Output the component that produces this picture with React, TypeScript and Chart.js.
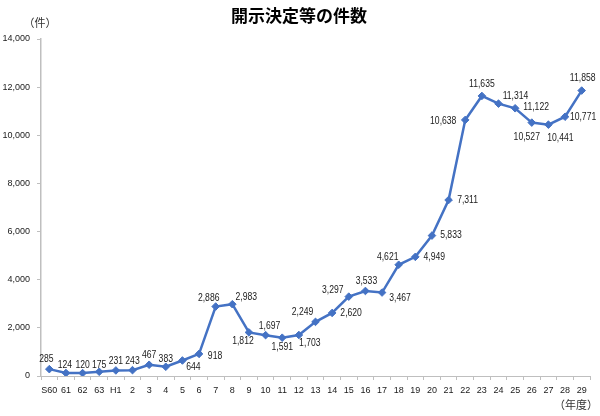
import React, { useEffect, useRef } from "react";
import { Chart, registerables } from "chart.js";

Chart.register(...registerables);

const categories = ["S60","61","62","63","H1","2","3","4","5","6","7","8","9","10","11","12","13","14","15","16","17","18","19","20","21","22","23","24","25","26","27","28","29"];
const counts = [285,124,120,175,231,243,467,383,644,918,2886,2983,1812,1697,1591,1703,2249,2620,3297,3533,3467,4621,4949,5833,7311,10638,11635,11314,11122,10527,10441,10771,11858];
const yTicks = [0, 2000, 4000, 6000, 8000, 10000, 12000, 14000];
const titleText = "開示決定等の件数";
const yUnit = "（件）";
const xUnit = "（年度）";

// label offsets relative to each point (dx, dy of label centre)
const labelOffsets: [number, number][] = [
  [-3,-10],[-1,-8],[0,-8],[0,-7],[0,-9],[0,-9],[0,-10],[0,-8],[11,7],[16,2],
  [-7,-8],[14,-7],[-6,9],[4,-9],[0,9],[11,8],[-13,-10],[19,0],[-16,-7],[1,-10],
  [18,6],[-11,-8],[19,0],[19,0],[19,0],[-22,1],[0,-12],[17,-8],[21,-1],[-5,15],
  [12,13],[18,0],[1,-12]
];

const FONT = "'Liberation Sans', Arial, sans-serif";
const CJK = "'Noto Sans CJK JP', sans-serif";
const SQUEEZE = 0.82;

const fmt = (v: number) => v.toLocaleString("en-US");

const overlayPlugin = {
  id: "overlay",
  afterDatasetsDraw(chart: any) {
    const ctx = chart.ctx;
    const meta = chart.getDatasetMeta(0);
    ctx.save();
    ctx.fillStyle = "#1a1a1a";
    ctx.font = `10.5px ${FONT}`;
    ctx.textAlign = "center";
    ctx.textBaseline = "middle";
    meta.data.forEach((pt: any, i: number) => {
      const [dx, dy] = labelOffsets[i];
      ctx.save();
      ctx.translate(pt.x + dx, pt.y + dy);
      ctx.scale(SQUEEZE, 1);
      ctx.fillText(fmt(counts[i]), 0, 0);
      ctx.restore();
    });
    ctx.fillStyle = "#000";
    ctx.font = `bold 17px ${CJK}`;
    ctx.fillText(titleText, 299, 16);
    ctx.fillStyle = "#333";
    ctx.font = `11px ${CJK}`;
    ctx.fillText(yUnit, 40, 23);
    ctx.fillText(xUnit, 576, 405);
    ctx.restore();
  },
};

export default function App() {
  const ref = useRef<HTMLCanvasElement>(null);
  useEffect(() => {
    if (!ref.current) return;
    const chart = new Chart(ref.current, {
      type: "line",
      data: {
        labels: categories,
        datasets: [
          {
            data: counts,
            borderColor: "#4472C4",
            backgroundColor: "#4472C4",
            borderWidth: 2.5,
            pointStyle: "rectRot",
            pointRadius: 3.8,
            pointBorderWidth: 1,
            tension: 0,
          },
        ],
      },
      options: {
        responsive: false,
        animation: false,
        layout: { padding: { top: 39, right: 10, bottom: 0, left: 0 } },
        plugins: { legend: { display: false }, tooltip: { enabled: false }, title: { display: false } },
        scales: {
          x: {
            offset: true,
            grid: { offset: true, drawOnChartArea: false, drawTicks: true, tickLength: 4, color: "#BFBFBF" },
            border: { color: "#BFBFBF", width: 1 },
            ticks: { color: "#1a1a1a", font: { size: 9, family: FONT }, padding: 5, maxRotation: 0, autoSkip: false },
            afterFit: (s: any) => { s.height = 40; },
          },
          y: {
            min: 0,
            max: 14000,
            afterBuildTicks: (s: any) => { s.ticks = yTicks.map((v) => ({ value: v })); },
            grid: { drawOnChartArea: false, drawTicks: true, tickLength: 4, color: "#BFBFBF" },
            border: { color: "#BFBFBF", width: 1.5 },
            ticks: { color: "#1a1a1a", font: { size: 9, family: FONT }, padding: 7, callback: (v: any) => fmt(Number(v)) },
            afterFit: (s: any) => { s.width = 41; },
          },
        },
      },
      plugins: [overlayPlugin],
    } as any);
    return () => chart.destroy();
  }, []);
  return (
    <div style={{ position: "fixed", left: 0, top: 0, width: 600, height: 416, background: "#fff" }}>
      <canvas ref={ref} width={600} height={416} style={{ width: 600, height: 416 }} />
    </div>
  );
}
